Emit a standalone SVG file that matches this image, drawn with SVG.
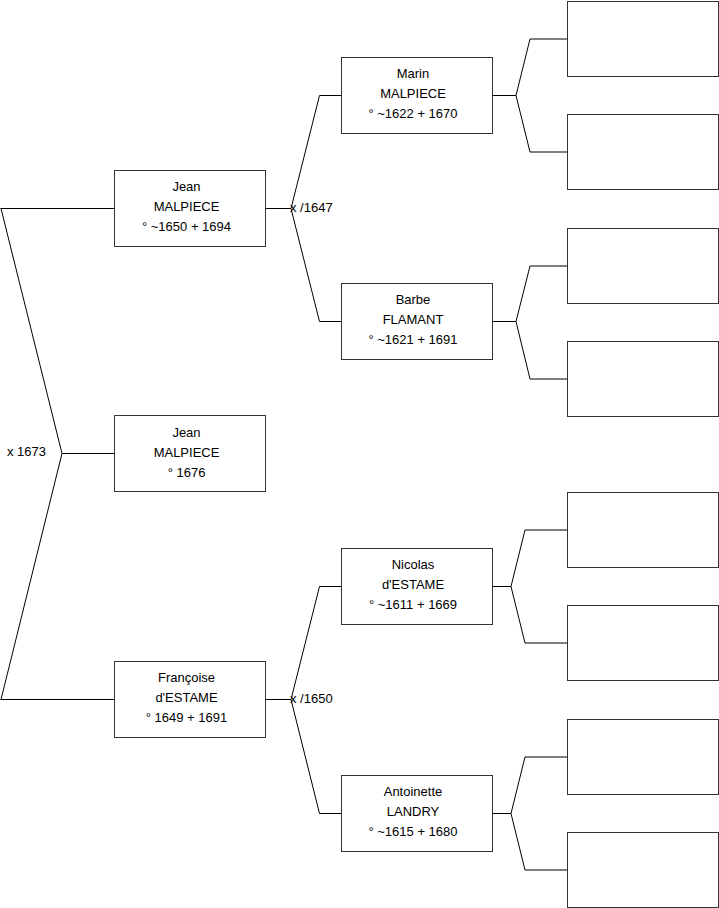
<svg xmlns="http://www.w3.org/2000/svg" width="719" height="908" viewBox="0 0 719 908">
<style>
.box{fill:#fff;stroke:#333;stroke-width:1}
.ln{fill:none;stroke:#000;stroke-width:1}
text{font-family:"Liberation Sans",Arial,sans-serif;font-size:13px;fill:#000}
.c{text-anchor:middle}
</style>
<rect x="0" y="0" width="719" height="908" fill="#fff"/>
<g id="connectors">
<path class="ln" d="M0.5,208.5 H114.5 M1,208.5 L62,453.5 L1,699.5 M62,453.5 H114.5 M0.5,699.5 H114.5"/>
<path class="ln" d="M265.5,208.5 H291 M319.5,95.5 L291,208.5 L319.5,321.5 M319.5,95.5 H341.5 M319.5,321.5 H341.5"/>
<path class="ln" d="M265.5,699.5 H291 M319.5,586.5 L291,699.5 L319.5,813.5 M319.5,586.5 H341.5 M319.5,813.5 H341.5"/>
<path class="ln" d="M491.5,95.5 H516 M530,39 L516,95.5 L530,152 M530,39 H567.5 M530,152 H567.5"/>
<path class="ln" d="M491.5,321.5 H516 M530,266 L516,321.5 L530,379 M530,266 H567.5 M530,379 H567.5"/>
<path class="ln" d="M491.5,586.5 H511 M525,530 L511,586.5 L525,643 M525,530 H567.5 M525,643 H567.5"/>
<path class="ln" d="M491.5,813.5 H511 M525,757 L511,813.5 L525,870 M525,757 H567.5 M525,870 H567.5"/>
<text x="7" y="456">x 1673</text>
<text x="290" y="212">x /1647</text>
<text x="290" y="703">x /1650</text>
</g>
<g id="jean-child"><rect class="box" x="114.5" y="415.5" width="151" height="76"/>
<text class="c" x="186.5" y="437">Jean</text><text class="c" x="186.5" y="457">MALPIECE</text><text class="c" x="186.5" y="477">° 1676</text></g>
<g id="jean"><rect class="box" x="114.5" y="170.5" width="151" height="76"/>
<text class="c" x="186.5" y="191">Jean</text><text class="c" x="186.5" y="211">MALPIECE</text><text class="c" x="186.5" y="231">° ~1650 + 1694</text></g>
<g id="francoise"><rect class="box" x="114.5" y="661.5" width="151" height="76"/>
<text class="c" x="186.5" y="682">Françoise</text><text class="c" x="186.5" y="702">d'ESTAME</text><text class="c" x="186.5" y="722">° 1649 + 1691</text></g>
<g id="marin"><rect class="box" x="341.5" y="57.5" width="151" height="76"/>
<text class="c" x="413" y="78">Marin</text><text class="c" x="413" y="98">MALPIECE</text><text class="c" x="413" y="118">° ~1622 + 1670</text></g>
<g id="barbe"><rect class="box" x="341.5" y="283.5" width="151" height="76"/>
<text class="c" x="413" y="304">Barbe</text><text class="c" x="413" y="324">FLAMANT</text><text class="c" x="413" y="344">° ~1621 + 1691</text></g>
<g id="nicolas"><rect class="box" x="341.5" y="548.5" width="151" height="76"/>
<text class="c" x="413" y="569">Nicolas</text><text class="c" x="413" y="589">d'ESTAME</text><text class="c" x="413" y="609">° ~1611 + 1669</text></g>
<g id="antoinette"><rect class="box" x="341.5" y="775.5" width="151" height="76"/>
<text class="c" x="413" y="796">Antoinette</text><text class="c" x="413" y="816">LANDRY</text><text class="c" x="413" y="836">° ~1615 + 1680</text></g>
<g id="gg1"><rect class="box" x="567.5" y="1.5" width="151" height="75"/></g>
<g id="gg2"><rect class="box" x="567.5" y="114.5" width="151" height="75"/></g>
<g id="gg3"><rect class="box" x="567.5" y="228.5" width="151" height="75"/></g>
<g id="gg4"><rect class="box" x="567.5" y="341.5" width="151" height="75"/></g>
<g id="gg5"><rect class="box" x="567.5" y="492.5" width="151" height="75"/></g>
<g id="gg6"><rect class="box" x="567.5" y="605.5" width="151" height="75"/></g>
<g id="gg7"><rect class="box" x="567.5" y="719.5" width="151" height="75"/></g>
<g id="gg8"><rect class="box" x="567.5" y="832.5" width="151" height="75"/></g>
</svg>
